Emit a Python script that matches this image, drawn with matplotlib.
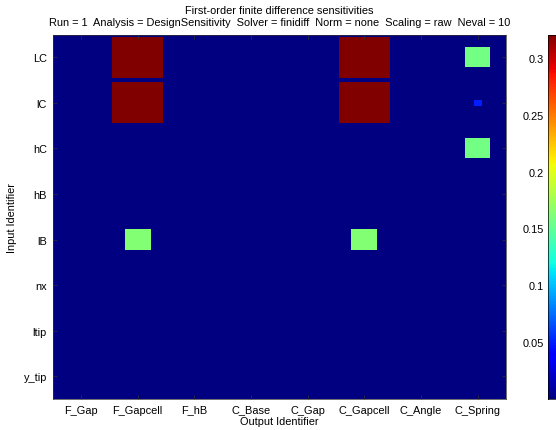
import matplotlib
matplotlib.use("Agg")
import matplotlib.pyplot as plt
import numpy as np
from matplotlib.patches import Rectangle
from matplotlib.collections import PatchCollection
from matplotlib.colors import Normalize

plt.rcParams['font.family'] = ['Liberation Sans', 'DejaVu Sans']

outputs = ['F_Gap', 'F_Gapcell', 'F_hB', 'C_Base', 'C_Gap', 'C_Gapcell', 'C_Angle', 'C_Spring']
inputs = ['LC', 'lC', 'hC', 'hB', 'lB', 'nx', 'ltip', 'y_tip']

row_LC = [0, 0.3205, 0, 0, 0, 0.3205, 0, 0.157]
row_lC = [0, 0.3205, 0, 0, 0, 0.3205, 0, 0.050]
row_hC = [0, 0, 0, 0, 0, 0, 0, 0.157]
row_hB = [0, 0, 0, 0, 0, 0, 0, 0]
row_lB = [0, 0.163, 0, 0, 0, 0.163, 0, 0]
row_nx = [0, 0, 0, 0, 0, 0, 0, 0]
row_ltip = [0, 0, 0, 0, 0, 0, 0, 0]
row_ytip = [0, 0, 0, 0, 0, 0, 0, 0]

cbar_ticks = [0.05, 0.1, 0.15, 0.2, 0.25, 0.3]
title_lines = ['First-order finite difference sensitivities',
               'Run = 1  Analysis = DesignSensitivity  Solver = finidiff  Norm = none  Scaling = raw  Neval = 10']

S = np.array([row_LC, row_lC, row_hC, row_hB, row_lB, row_nx, row_ltip, row_ytip])
vmin, vmax = 0.0, S.max()
cmap = plt.get_cmap('jet')
norm = Normalize(vmin=vmin, vmax=vmax)

FS = 7.9
W, H = 556, 431
fig = plt.figure(figsize=(W / 100, H / 100), dpi=100)
ax = fig.add_axes([52.5 / W, (H - 400) / H, 453.5 / W, 364.5 / H])
ax.set_facecolor(cmap(norm(0.0)))

patches, vals = [], []
for i in range(len(inputs)):
    for j in range(len(outputs)):
        v = S[i, j]
        if v <= 0:
            continue
        side = 0.9 * v / vmax
        patches.append(Rectangle((j + 1 - side / 2, i + 1 - side / 2), side, side))
        vals.append(v)
pc = PatchCollection(patches, cmap=cmap, norm=norm, edgecolor='none')
pc.set_array(np.array(vals))
ax.add_collection(pc)

ax.set_xlim(0.5, len(outputs) + 0.5)
ax.set_ylim(len(inputs) + 0.5, 0.5)
ax.set_xticks(np.arange(1, len(outputs) + 1))
ax.set_xticklabels(outputs)
ax.set_yticks(np.arange(1, len(inputs) + 1))
ax.set_yticklabels(inputs)
ax.tick_params(direction='in', length=3, width=0.5, top=True, right=True,
               labelsize=FS, pad=4, color='#333333')
for s in ax.spines.values():
    s.set_linewidth(0.5)
    s.set_color('#333333')
ax.set_xlabel('Output Identifier', fontsize=FS, labelpad=1)
ax.set_ylabel('Input Identifier', fontsize=FS, labelpad=5)
ax.set_title(title_lines[0] + '\n' + title_lines[1], fontsize=FS, pad=7, linespacing=1.2)

cax = fig.add_axes([548.3 / W, (H - 400) / H, 0.04, 364.5 / H])
cb = fig.colorbar(pc, cax=cax)
cb.set_ticks(cbar_ticks)
cb.set_ticklabels([f'{t:g}' for t in cbar_ticks])
cax.yaxis.set_ticks_position('left')
cax.yaxis.set_label_position('left')
cax.tick_params(direction='in', length=0, labelsize=FS, pad=3)
cb.outline.set_linewidth(0.5)

fig.savefig('out.png', dpi=100)
